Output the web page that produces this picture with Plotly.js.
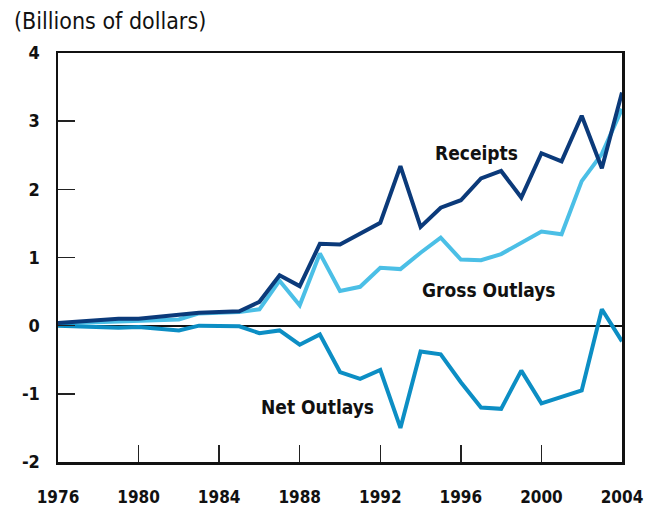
<!DOCTYPE html>
<html>
<head>
<meta charset="utf-8">
<script src="https://cdn.plot.ly/plotly-3.0.1.min.js"></script>
<style>html,body{margin:0;padding:0;background:#fff;}#chart{width:664px;height:509px;}</style>
</head>
<body>
<div id="chart"></div>
<script>
const years = [1976,1977,1978,1979,1980,1981,1982,1983,1984,1985,1986,1987,1988,1989,1990,1991,1992,1993,1994,1995,1996,1997,1998,1999,2000,2001,2002,2003,2004];
const receipts = [0.04,0.06,0.08,0.10,0.10,0.13,0.16,0.19,0.20,0.21,0.35,0.74,0.58,1.20,1.19,1.35,1.51,2.34,1.45,1.73,1.84,2.16,2.27,1.88,2.53,2.41,3.08,2.31,3.42];
const grossOutlays = [0.03,0.04,0.05,0.06,0.08,0.09,0.09,0.18,0.19,0.20,0.24,0.66,0.30,1.06,0.51,0.57,0.85,0.83,1.07,1.29,0.97,0.96,1.05,1.22,1.38,1.34,2.12,2.52,3.18];
const netOutlays = [0.00,-0.01,-0.02,-0.03,-0.02,-0.04,-0.07,0.00,0.00,-0.01,-0.11,-0.07,-0.28,-0.13,-0.68,-0.78,-0.65,-1.50,-0.38,-0.42,-0.83,-1.20,-1.22,-0.66,-1.14,-1.05,-0.95,0.24,-0.23];
const xTicks = [1976,1980,1984,1988,1992,1996,2000,2004];
const yTicks = [-2,-1,0,1,2,3,4];
const seriesNames = ['Receipts','Gross Outlays','Net Outlays'];

const FONT = '"Liberation Sans Narrow","DejaVu Sans Condensed","Liberation Sans",sans-serif';
const colors = {rec:'#0B3A7A', gross:'#4BBFE6', net:'#0C8EC4'};

const traces = [
  {x: years, y: grossOutlays, name: seriesNames[1], mode:'lines', line:{color:colors.gross, width:4}},
  {x: years, y: netOutlays, name: seriesNames[2], mode:'lines', line:{color:colors.net, width:4}},
  {x: years, y: receipts, name: seriesNames[0], mode:'lines', line:{color:colors.rec, width:4}}
];

const layout = {
  width: 664, height: 509,
  margin: {l: 57.5, r: 41.5, t: 53, b: 47},
  paper_bgcolor: '#fff', plot_bgcolor: '#fff',
  showlegend: false,
  font: {family: FONT, color: '#111'},
  xaxis: {
    range: [1976, 2004], tickvals: xTicks, ticktext: xTicks.map(String),
    ticks: 'inside', ticklen: 17, tickwidth: 1.5, tickcolor: '#222',
    showline: true, linecolor: '#111', linewidth: 2.5, mirror: true,
    showgrid: false, zeroline: false,
    tickfont: {family: FONT, size: 17, color: '#111', weight: 'bold'},
    ticklabelstandoff: 18
  },
  yaxis: {
    range: [-2, 4], tickvals: yTicks, ticktext: yTicks.map(String),
    ticks: 'inside', ticklen: 17, tickwidth: 1.5, tickcolor: '#222',
    showline: true, linecolor: '#111', linewidth: 2.5, mirror: true,
    showgrid: false, zeroline: true, zerolinecolor: '#111', zerolinewidth: 2,
    tickfont: {family: FONT, size: 18, color: '#111', weight: 'bold'},
    ticklabelstandoff: 12
  },
  annotations: [
    {text: '(Billions of dollars)', xref: 'paper', yref: 'paper', x: -0.082, y: 1.0, xanchor: 'left', yanchor: 'bottom', yshift: 17, showarrow: false, font: {family: FONT, size: 23, color: '#111'}},
    {text: '<b>' + seriesNames[0] + '</b>', xref: 'x', yref: 'y', x: 1996.8, y: 2.54, showarrow: false, font: {family: FONT, size: 19, color: '#111'}},
    {text: '<b>' + seriesNames[1] + '</b>', xref: 'x', yref: 'y', x: 1997.4, y: 0.52, showarrow: false, font: {family: FONT, size: 19, color: '#111'}},
    {text: '<b>' + seriesNames[2] + '</b>', xref: 'x', yref: 'y', x: 1988.9, y: -1.2, showarrow: false, font: {family: FONT, size: 19, color: '#111'}}
  ]
};

Plotly.newPlot('chart', traces, layout, {displayModeBar: false, staticPlot: true});
</script>
</body>
</html>
